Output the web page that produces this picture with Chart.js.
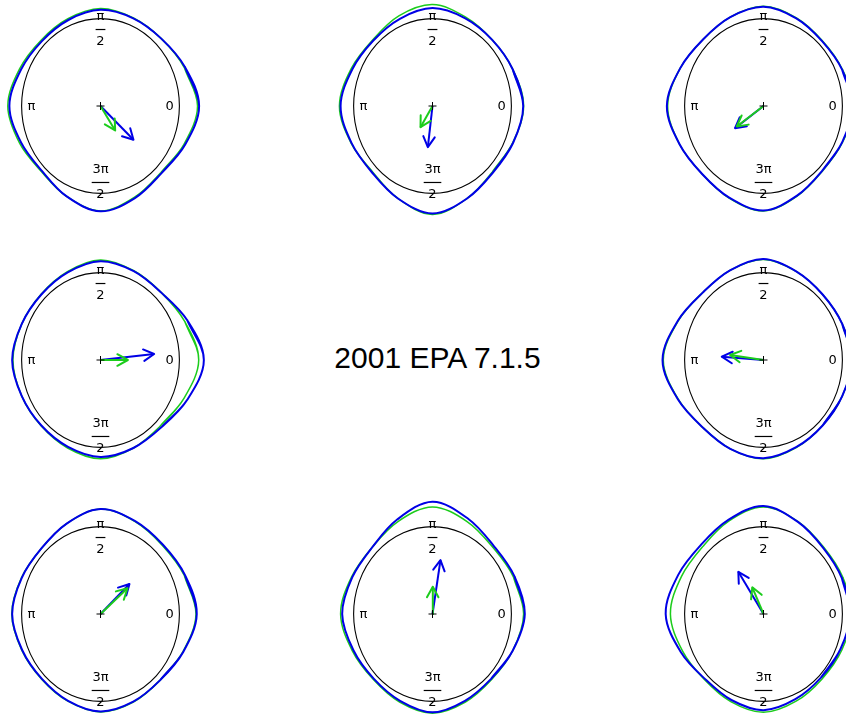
<!DOCTYPE html>
<html>
<head>
<meta charset="utf-8">
<script src="https://cdn.jsdelivr.net/npm/chart.js@4/dist/chart.umd.min.js"></script>
<style>
  html, body { margin: 0; padding: 0; background: #fff; }
  body { width: 846px; height: 717px; position: relative; overflow: hidden; }
  canvas.cell { position: absolute; }
  #title {
    position: absolute; left: 0; width: 875px; top: 341px;
    line-height: 36px; text-align: center; color: #000;
    font: 30px "Liberation Sans", Arial, sans-serif;
  }
</style>
</head>
<body>
<div id="title">2001 EPA 7.1.5</div>
<script>
  // angles (degrees) at which each curve radius was read
  const ANGLES = [0, 22.5, 45, 67.5, 90, 112.5, 135, 157.5, 180, 202.5, 225, 247.5, 270, 292.5, 315, 337.5];

  // one row per panel, reading order (centre panel is the title)
  const BLUE_RADII = [
    [1.25, 1.16, 1.09, 1.085, 1.10, 1.065, 1.05, 1.09, 1.155, 1.09, 1.05, 1.12, 1.205, 1.14, 1.09, 1.16],
    [1.15, 1.10, 1.07, 1.085, 1.12, 1.08, 1.06, 1.10, 1.165, 1.11, 1.08, 1.145, 1.23, 1.145, 1.08, 1.105],
    [1.13, 1.08, 1.05, 1.085, 1.135, 1.10, 1.08, 1.14, 1.225, 1.15, 1.10, 1.135, 1.195, 1.11, 1.05, 1.08],
    [1.31, 1.19, 1.09, 1.10, 1.13, 1.085, 1.06, 1.08, 1.12, 1.08, 1.06, 1.075, 1.11, 1.09, 1.09, 1.19],
    [1.12, 1.08, 1.06, 1.095, 1.155, 1.11, 1.09, 1.175, 1.28, 1.175, 1.09, 1.10, 1.125, 1.08, 1.06, 1.08],
    [1.22, 1.16, 1.12, 1.15, 1.20, 1.12, 1.06, 1.08, 1.12, 1.075, 1.05, 1.075, 1.115, 1.085, 1.07, 1.135],
    [1.17, 1.125, 1.10, 1.18, 1.285, 1.17, 1.08, 1.10, 1.145, 1.085, 1.05, 1.075, 1.125, 1.075, 1.05, 1.10],
    [1.10, 1.075, 1.07, 1.14, 1.235, 1.165, 1.12, 1.17, 1.24, 1.135, 1.05, 1.065, 1.10, 1.055, 1.03, 1.055],
  ];
  const GREEN_RADII = [
    [1.23, 1.15, 1.09, 1.09, 1.115, 1.08, 1.065, 1.11, 1.175, 1.11, 1.06, 1.12, 1.20, 1.13, 1.08, 1.145],
    [1.155, 1.10, 1.07, 1.10, 1.16, 1.115, 1.07, 1.115, 1.18, 1.115, 1.07, 1.145, 1.24, 1.145, 1.07, 1.10],
    [1.14, 1.085, 1.055, 1.09, 1.14, 1.10, 1.08, 1.14, 1.215, 1.15, 1.10, 1.14, 1.20, 1.115, 1.055, 1.085],
    [1.245, 1.155, 1.09, 1.105, 1.145, 1.095, 1.065, 1.08, 1.11, 1.08, 1.065, 1.09, 1.13, 1.09, 1.07, 1.145],
    [1.12, 1.08, 1.06, 1.095, 1.15, 1.11, 1.09, 1.17, 1.27, 1.17, 1.09, 1.10, 1.13, 1.085, 1.06, 1.08],
    [1.21, 1.15, 1.11, 1.145, 1.20, 1.12, 1.06, 1.085, 1.125, 1.08, 1.055, 1.08, 1.12, 1.09, 1.07, 1.13],
    [1.155, 1.11, 1.08, 1.145, 1.225, 1.145, 1.08, 1.11, 1.165, 1.10, 1.06, 1.09, 1.135, 1.09, 1.06, 1.10],
    [1.12, 1.09, 1.08, 1.145, 1.225, 1.15, 1.09, 1.125, 1.18, 1.11, 1.06, 1.085, 1.125, 1.08, 1.05, 1.075],
  ];

  // arrow tips (x, y) in the same units as the radii
  const BLUE_TIPS = [
    [0.418, -0.386], [-0.059, -0.471], [-0.361, -0.254], [0.68, 0.069],
    [-0.529, 0.038], [0.367, 0.343], [0.101, 0.617], [-0.319, 0.483],
  ];
  const GREEN_TIPS = [
    [0.186, -0.28], [-0.152, -0.242], [-0.339, -0.234], [0.347, 0.0],
    [-0.424, 0.057], [0.342, 0.294], [0.004, 0.312], [-0.142, 0.305],
  ];

  const TICK_ANGLES = [0, 90, 180, 270];
  const TICK_TOP = ["0", "π", "π", "3π"];
  const TICK_BOTTOM = ["", "2", "", "2"];

  // layout
  const CENTERS = [
    [100.3, 105.5], [432, 105.5], [763.5, 105.5],
    [100.3, 360], [763.5, 360],
    [100.3, 614], [432, 614], [763.5, 614],
  ];
  const LIM = 1.35;
  const W = 213, H = 236;
  const LABEL_R = 0.875;
  const BLUE = "#0000e6";
  const GREEN = "#1ccc1c";
  const HEAD = 12, SPREAD = 0.5;

  function loopPoints(radii) {
    const n = radii.length;
    const pts = [];
    // wrap two readings on each side so the spline closes smoothly
    for (let k = -2; k <= n + 1; k++) {
      const i = (k + n) % n;
      const t = ANGLES[i] * Math.PI / 180;
      pts.push({ x: radii[i] * Math.cos(t), y: radii[i] * Math.sin(t) });
    }
    return pts;
  }

  const polarFrame = {
    id: "polarFrame",
    beforeDatasetsDraw(chart) {
      const { ctx, scales: { x, y } } = chart;
      const cx = x.getPixelForValue(0), cy = y.getPixelForValue(0);
      const rx = x.getPixelForValue(1) - cx, ry = cy - y.getPixelForValue(1);
      ctx.save();
      ctx.strokeStyle = "#000";
      ctx.lineWidth = 1.1;
      ctx.beginPath();
      ctx.ellipse(cx, cy, rx, ry, 0, 0, Math.PI * 2);
      ctx.stroke();

      ctx.fillStyle = "#000";
      ctx.font = '13px "DejaVu Sans"';
      ctx.textAlign = "center";
      ctx.textBaseline = "middle";
      TICK_ANGLES.forEach((a, i) => {
        const t = a * Math.PI / 180;
        const px = x.getPixelForValue(LABEL_R * Math.cos(t));
        const py = y.getPixelForValue(LABEL_R * Math.sin(t));
        if (!TICK_BOTTOM[i]) {
          ctx.fillText(TICK_TOP[i], px, py + 1);
          return;
        }
        const w = Math.max(ctx.measureText(TICK_TOP[i]).width, ctx.measureText(TICK_BOTTOM[i]).width) + 1.5;
        ctx.fillText(TICK_TOP[i], px, py - 13);
        ctx.fillRect(px - w / 2, py - 0.6, w, 1.2);
        ctx.fillText(TICK_BOTTOM[i], px, py + 12.5);
      });
      ctx.restore();
    },
  };

  const arrowHeads = {
    id: "arrowHeads",
    afterDatasetDraw(chart, args) {
      const ds = chart.data.datasets[args.index];
      if (!ds.arrow) return;
      const pts = args.meta.data;
      const a = pts[0], b = pts[pts.length - 1];
      const ang = Math.atan2(b.y - a.y, b.x - a.x);
      const ctx = chart.ctx;
      ctx.save();
      ctx.strokeStyle = ds.borderColor;
      ctx.lineWidth = ds.borderWidth;
      ctx.lineCap = "round";
      ctx.lineJoin = "round";
      ctx.beginPath();
      ctx.moveTo(b.x - HEAD * Math.cos(ang - SPREAD), b.y - HEAD * Math.sin(ang - SPREAD));
      ctx.lineTo(b.x, b.y);
      ctx.lineTo(b.x - HEAD * Math.cos(ang + SPREAD), b.y - HEAD * Math.sin(ang + SPREAD));
      ctx.stroke();
      ctx.restore();
    },
  };

  function curve(radii, color, width) {
    return {
      data: loopPoints(radii),
      showLine: true,
      borderColor: color,
      borderWidth: width,
      pointRadius: 0,
      tension: 0.35,
      fill: false,
    };
  }

  function arrow(tip, color) {
    return {
      data: [{ x: 0, y: 0 }, { x: tip[0], y: tip[1] }],
      showLine: true,
      borderColor: color,
      borderWidth: 2,
      pointRadius: 0,
      tension: 0,
      arrow: true,
    };
  }

  CENTERS.forEach(([cx, cy], p) => {
    const canvas = document.createElement("canvas");
    canvas.className = "cell";
    canvas.width = W;
    canvas.height = H;
    canvas.style.width = W + "px";
    canvas.style.height = H + "px";
    canvas.style.left = Math.round(cx - W / 2) + "px";
    canvas.style.top = Math.round(cy - H / 2) + "px";
    document.body.appendChild(canvas);

    new Chart(canvas.getContext("2d"), {
      type: "scatter",
      data: {
        datasets: [
          {
            data: [{ x: 0, y: 0 }],
            pointStyle: "cross",
            pointRadius: 4,
            borderColor: "#000",
            borderWidth: 1,
            showLine: false,
          },
          arrow(GREEN_TIPS[p], GREEN),
          arrow(BLUE_TIPS[p], BLUE),
          curve(BLUE_RADII[p], BLUE, 2),
          curve(GREEN_RADII[p], GREEN, 1.5),
        ],
      },
      options: {
        responsive: false,
        animation: false,
        events: [],
        layout: { padding: 0, autoPadding: false },
        scales: {
          x: { type: "linear", min: -LIM, max: LIM, display: false },
          y: { type: "linear", min: -LIM, max: LIM, display: false },
        },
        plugins: { legend: { display: false }, tooltip: { enabled: false } },
      },
      plugins: [polarFrame, arrowHeads],
    });
  });
</script>
</body>
</html>
